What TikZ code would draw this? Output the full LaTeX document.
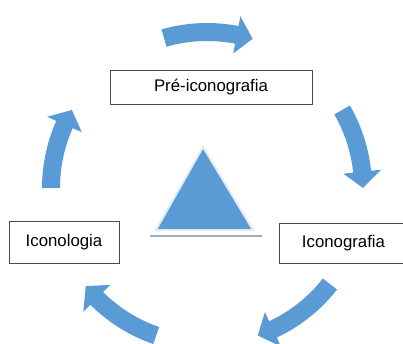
\documentclass[tikz,border=0pt]{standalone}
\usepackage{fontspec}
\setmainfont{Liberation Sans}
\definecolor{arrowblue}{HTML}{5B9BD5}
\definecolor{boxgray}{HTML}{4A4A4A}
\definecolor{shadowgray}{HTML}{A3ABB5}
\newcommand\cycarrow[2]{%
  \pgfmathsetmacro\hd{#2+6}%
  \fill[arrowblue] (#1:165) arc[start angle=#1, end angle=\hd, radius=165]
    -- (\hd:175) -- (#2:156) -- (\hd:137) -- (\hd:147)
    arc[start angle=\hd, end angle=#1, radius=147] -- cycle;}
\begin{document}
\begin{tikzpicture}[x=1pt,y=1pt,
  lbl/.style={draw=boxgray, line width=0.9pt, fill=white, inner sep=0pt,
    font=\fontsize{16.8}{20}\selectfont}]
\useasboundingbox (0,0) rectangle (403,343);
\clip (0,0) rectangle (403,343);
\begin{scope}[shift={(207,155)}]
  \cycarrow{106}{73}
  \cycarrow{30}{0}
  \cycarrow{-38}{-71}
  \cycarrow{-109}{-141}
  \cycarrow{180}{150}
\end{scope}
\node[lbl, minimum width=202pt, minimum height=34pt] (pre) at (211,256) {Pré-iconografia};
\node[lbl, minimum width=110pt, minimum height=42pt] (icl) at (64,101) {Iconologia};
\node[lbl, minimum width=129pt, minimum height=40pt] (icg) at (343.5,100) {Iconografia};
\coordinate (tA) at (203,196);
\coordinate (tB) at (156,113);
\coordinate (tC) at (253,113);
\coordinate (sL) at (150,107);
\coordinate (sR) at (262,107);
\draw[shadowgray, line width=2.5pt] (sL) -- (sR);
\filldraw[fill=arrowblue, draw=arrowblue!20, line width=2pt, line join=miter] (tA) -- (tB) -- (tC) -- cycle;
\end{tikzpicture}
\end{document}
